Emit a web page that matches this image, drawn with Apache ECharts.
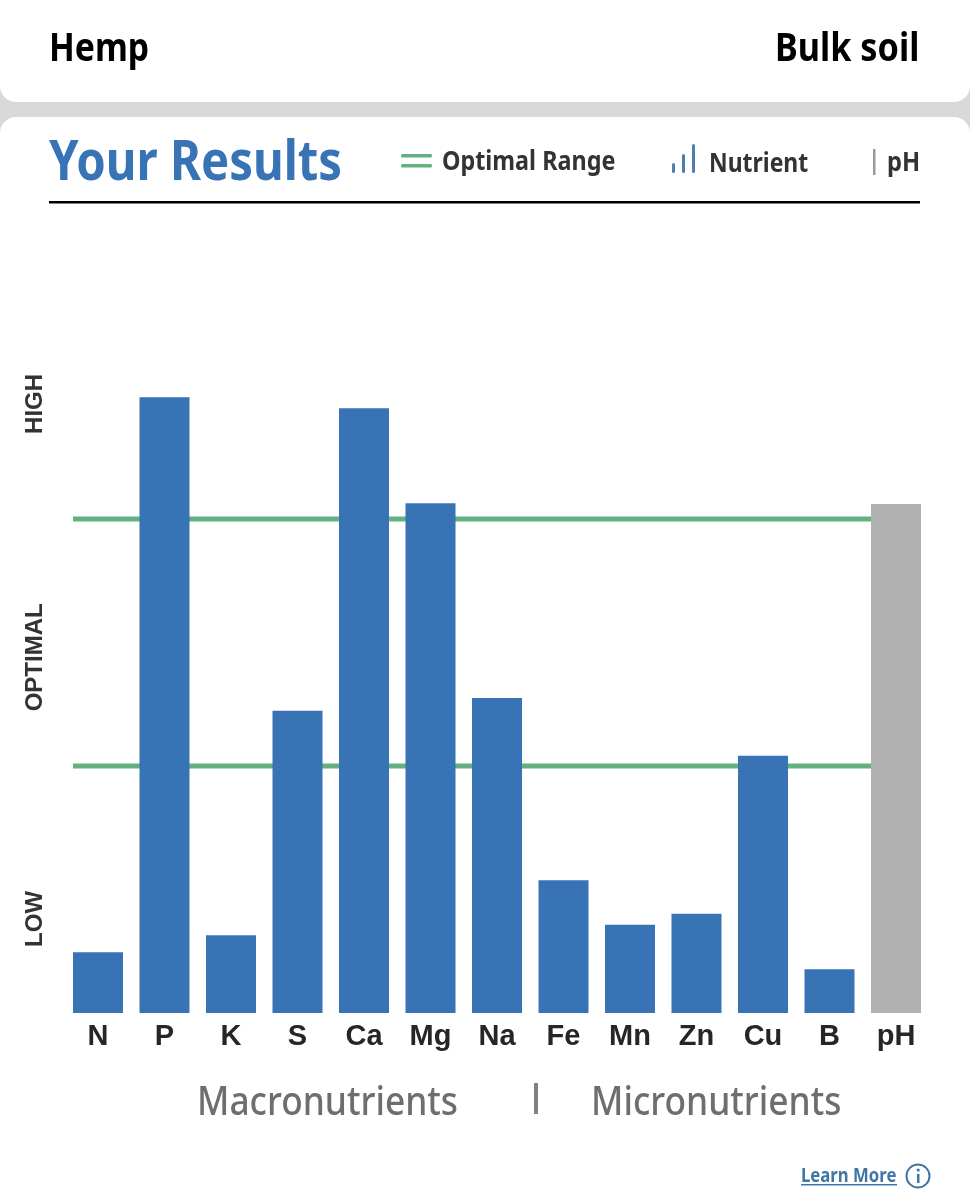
<!DOCTYPE html>
<html>
<head>
<meta charset="utf-8">
<title>Your Results</title>
<script src="https://cdn.jsdelivr.net/npm/echarts@6/dist/echarts.min.js"></script>
<style>
  html, body { margin: 0; padding: 0; background: #d9d9d9; }
  #chart { width: 970px; height: 1200px; }
</style>
</head>
<body>
<div id="chart"></div>
<script>
// Soil test results, scaled so LOW / OPTIMAL / HIGH are equal thirds of 0-100.
const nutrients = ['N', 'P', 'K', 'S', 'Ca', 'Mg', 'Na', 'Fe', 'Mn', 'Zn', 'Cu', 'B', 'pH'];
const levels = [8.2, 83.1, 10.5, 40.8, 81.6, 68.8, 42.5, 17.9, 11.9, 13.4, 34.7, 5.9, 68.7];
const optimalBounds = [33.33, 66.67];
const bandNames = ['LOW', 'OPTIMAL', 'HIGH'];
const bandLabelValues = [12.7, 48, 82.2];

const BLUE = '#3873b5';
const GREEN = '#62b181';
const GREY = '#b1b1b1';
const LINK = '#3f76a6';
const HEAD = '"Noto Sans", sans-serif';
const AXIS = '"Liberation Sans", Arial, sans-serif';

// Condensed heading text: the face is squeezed horizontally from its left edge.
function text(x, capCentre, str, size, weight, fill, squeeze) {
  return {
    type: 'text', x, y: capCentre + size * 0.07, z: 5, silent: true,
    scaleX: squeeze, originX: 0, originY: 0,
    style: {
      text: str, font: weight + ' ' + size + 'px ' + HEAD, fill,
      textAlign: 'left', textVerticalAlign: 'middle'
    }
  };
}
function box(x, y, width, height, fill, r) {
  return {
    type: 'rect', z: 1, silent: true,
    shape: { x, y, width, height, r: r || 0 },
    style: { fill }
  };
}

const page = [
  box(0, -40, 970, 142, '#ffffff', 16),
  box(0, 117, 970, 1120, '#ffffff', 16),
  text(49, 47, 'Hemp', 39, 700, '#000000', 0.865),
  text(775, 47, 'Bulk soil', 39, 700, '#000000', 0.878),
  text(49, 160, 'Your Results', 55, 700, BLUE, 0.86),
  box(49, 201, 871, 2.5, '#000000'),
  // Legend
  box(401, 154, 31, 3.5, GREEN, 1.5), box(401, 164, 31, 3.5, GREEN, 1.5),
  text(442, 160, 'Optimal Range', 27, 700, '#333333', 0.865),
  box(672, 163, 3, 10, '#4a7fb0', 1.5), box(682, 154, 3, 19, '#4a7fb0', 1.5), box(692, 144, 3, 29, '#4a7fb0', 1.5),
  text(709, 162, 'Nutrient', 27, 700, '#333333', 0.85),
  box(873, 149, 2.5, 26, '#9a9a9a'),
  text(887, 161, 'pH', 27, 700, '#333333', 0.88),
  // Group captions
  text(197, 1101, 'Macronutrients', 39, 500, '#6e6e6e', 0.905),
  box(534, 1083, 4, 31, '#808080'),
  text(591, 1101, 'Micronutrients', 39, 500, '#6e6e6e', 0.905),
  // Learn more link
  text(801, 1175, 'Learn More', 19, 700, LINK, 0.88),
  box(801, 1184, 96, 1.5, LINK),
  { type: 'circle', z: 5, silent: true, shape: { cx: 918, cy: 1176, r: 11.5 }, style: { fill: 'none', stroke: LINK, lineWidth: 2 } },
  { type: 'rect', z: 5, silent: true, shape: { x: 917, y: 1174, width: 2.5, height: 9 }, style: { fill: LINK } },
  { type: 'circle', z: 5, silent: true, shape: { cx: 918.2, cy: 1170, r: 1.6 }, style: { fill: LINK } }
];

const chart = echarts.init(document.getElementById('chart'), null, { renderer: 'canvas' });
chart.setOption({
  animation: false,
  backgroundColor: '#d9d9d9',
  graphic: { elements: page },
  grid: { left: 64.75, right: 40.75, top: 272, bottom: 187 },
  xAxis: {
    type: 'category',
    z: 4,
    data: nutrients,
    axisLine: { show: false },
    axisTick: { show: false },
    axisLabel: { color: '#262626', fontFamily: AXIS, fontWeight: 'bold', fontSize: 29, margin: 9 }
  },
  yAxis: {
    type: 'value',
    z: 4,
    min: 0,
    max: 100,
    splitLine: { show: false },
    axisLine: { show: false },
    axisTick: { show: false },
    axisLabel: {
      customValues: bandLabelValues,
      rotate: 90,
      margin: 17,
      color: '#333333',
      fontFamily: AXIS,
      fontWeight: 'bold',
      fontSize: 24,
      formatter: (v) => bandNames[bandLabelValues.indexOf(v)]
    }
  },
  series: [
    {
      // Optimal range limits run from the first bar's left edge across the plot.
      type: 'custom',
      z: 2,
      silent: true,
      data: optimalBounds.map((v) => [v]),
      encode: { y: 0 },
      renderItem(params, api) {
        const band = api.size([1, 0])[0];
        const gap = band * 0.124;
        const y = api.coord([0, api.value(0)])[1];
        const xStart = params.coordSys.x + gap;
        const xEnd = params.coordSys.x + params.coordSys.width - gap;
        return {
          type: 'line',
          shape: { x1: xStart, y1: y, x2: xEnd, y2: y },
          style: { stroke: GREEN, lineWidth: 5 }
        };
      }
    },
    {
      type: 'bar',
      z: 3,
      barWidth: 50,
      data: levels.map((v, i) => ({
        value: v,
        itemStyle: { color: nutrients[i] === 'pH' ? GREY : BLUE }
      }))
    }
  ]
});
</script>
</body>
</html>
